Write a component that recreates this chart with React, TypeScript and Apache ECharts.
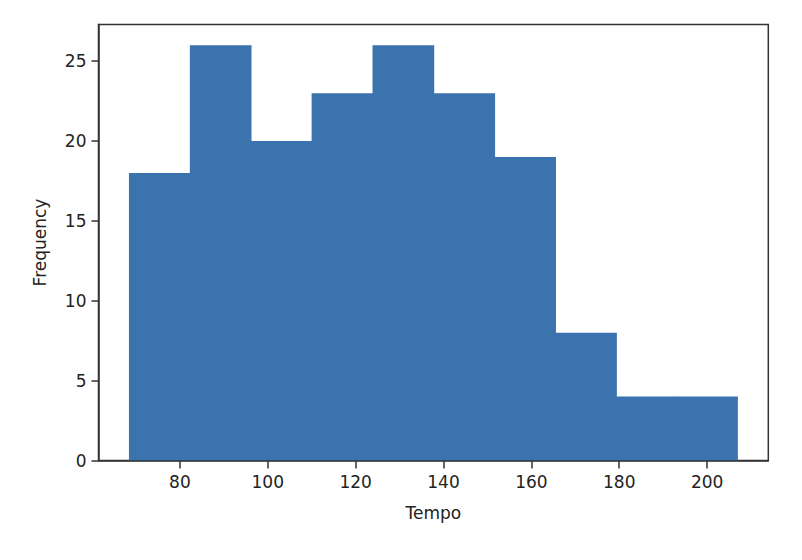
import { useEffect, useRef } from "react";
import * as echarts from "echarts";

// histogram of tempo values: 10 bins
const binEdges = [68.4, 82.26, 96.12, 109.98, 123.84, 137.7, 151.56, 165.42, 179.28, 193.14, 207.0];
const counts = [18, 26, 20, 23, 26, 23, 19, 8, 4, 4];
const xTicks = [80, 100, 120, 140, 160, 180, 200];
const yTicks = [0, 5, 10, 15, 20, 25];

const font = "'DejaVu Sans', sans-serif";

const App = () => {
    const chartRef = useRef<HTMLDivElement>(null);

    useEffect(() => {
        if (!chartRef.current) return;
        const chart = echarts.init(chartRef.current, undefined, { renderer: "svg" });

        const span = binEdges[binEdges.length - 1] - binEdges[0];
        const xMin = binEdges[0] - span * 0.05;
        const xMax = binEdges[binEdges.length - 1] + span * 0.05;
        const yMax = Math.max(...counts) * 1.05;

        const data = counts.map((c, i) => [binEdges[i], binEdges[i + 1], c]);
        const last = counts.length - 1;

        chart.setOption({
            animation: false,
            grid: {
                left: 98.5,
                top: 24.5,
                right: 33.7,
                bottom: 99.5,
                show: true,
                borderColor: "#333",
                borderWidth: 1.5,
                backgroundColor: "transparent",
            },
            xAxis: {
                type: "value",
                min: xMin,
                max: xMax,
                name: "Tempo",
                nameLocation: "middle",
                nameGap: 44,
                nameTextStyle: { fontFamily: font, fontSize: 17, color: "#222" },
                splitLine: { show: false },
                axisLine: { show: true, lineStyle: { color: "#333", width: 1.5 } },
                axisTick: {
                    show: true,
                    length: 8,
                    customValues: xTicks,
                    lineStyle: { color: "#333", width: 1.5 },
                },
                axisLabel: {
                    customValues: xTicks,
                    margin: 13,
                    fontFamily: font,
                    fontSize: 17,
                    color: "#222",
                },
            },
            yAxis: {
                type: "value",
                min: 0,
                max: yMax,
                name: "Frequency",
                nameLocation: "middle",
                nameGap: 50,
                nameTextStyle: { fontFamily: font, fontSize: 17, color: "#222" },
                splitLine: { show: false },
                axisLine: { show: true, lineStyle: { color: "#333", width: 1.5 } },
                axisTick: {
                    show: true,
                    length: 7,
                    customValues: yTicks,
                    lineStyle: { color: "#333", width: 1.5 },
                },
                axisLabel: {
                    customValues: yTicks,
                    margin: 12,
                    fontFamily: font,
                    fontSize: 17,
                    color: "#222",
                },
            },
            series: [
                {
                    type: "custom",
                    clip: true,
                    data,
                    encode: { x: [0, 1], y: 2 },
                    renderItem: (params: any, api: any) => {
                        const p0 = api.coord([api.value(0), 0]);
                        const p1 = api.coord([api.value(1), api.value(2)]);
                        // small overlap so neighbouring bins join without a seam
                        const extra = params.dataIndex < last ? 0.8 : 0;
                        return {
                            type: "rect",
                            shape: {
                                x: p0[0],
                                y: p1[1],
                                width: p1[0] - p0[0] + extra,
                                height: p0[1] - p1[1],
                            },
                            style: { fill: "#3a73ad" },
                        };
                    },
                },
            ],
        });

        return () => {
            chart.dispose();
        };
    }, []);

    return (
        <div
            ref={chartRef}
            style={{ position: "absolute", left: 0, top: 0, width: "802px", height: "560px", background: "#fff" }}
        />
    );
};

export default App;
